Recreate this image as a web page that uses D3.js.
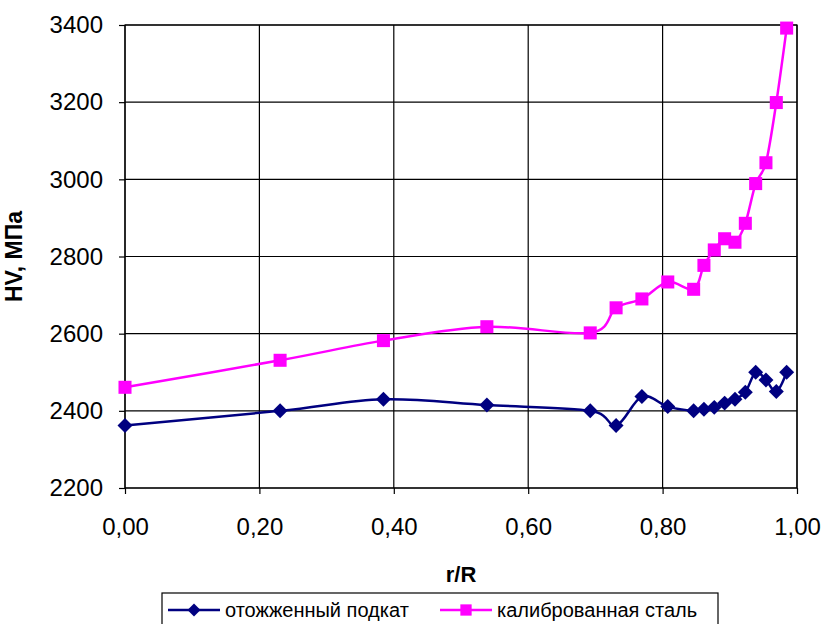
<!DOCTYPE html>
<html>
<head>
<meta charset="utf-8">
<script src="https://cdn.jsdelivr.net/npm/d3@7"></script>
<style>
  body { margin: 0; background: #fff; }
  text { font-family: "Liberation Sans", Arial, sans-serif; fill: #000; }
</style>
</head>
<body>
<div id="chart"></div>
<script>
// r/R positions shared by both series
var radius = [0, 0.2308, 0.3846, 0.5385, 0.6923, 0.7308, 0.7692, 0.8077, 0.8462,
              0.8615, 0.8769, 0.8923, 0.9077, 0.9231, 0.9385, 0.9538, 0.9692, 0.9846];

var annealed = [2362, 2400, 2430, 2415, 2400, 2362, 2437, 2411, 2400,
                2404, 2409, 2420, 2430, 2448, 2500, 2480, 2450, 2500];

var calibrated = [2461, 2531, 2582, 2618, 2602, 2667, 2690, 2734, 2715,
                  2777, 2817, 2846, 2837, 2886, 2989, 3043, 3199, 3392];

var seriesNames = ["отожженный подкат", "калиброванная сталь"];
var xTicks = [0, 0.2, 0.4, 0.6, 0.8, 1.0];
var yTicks = [2200, 2400, 2600, 2800, 3000, 3200, 3400];

var margin = { top: 25, right: 28, bottom: 136, left: 125 },
    width = 825 - margin.left - margin.right,
    height = 624 - margin.top - margin.bottom;

var x = d3.scaleLinear().domain([0, 1]).range([0, width]);
var y = d3.scaleLinear().domain([2200, 3400]).range([height, 0]);

var svg = d3.select("#chart").append("svg")
    .attr("width", 825)
    .attr("height", 624);

var g = svg.append("g")
    .attr("transform", "translate(" + margin.left + "," + margin.top + ")");

// gridlines
g.selectAll(".hgrid").data(yTicks).enter().append("line")
    .attr("x1", 0).attr("x2", width)
    .attr("y1", function (d) { return y(d); })
    .attr("y2", function (d) { return y(d); })
    .attr("stroke", "#000").attr("stroke-width", 1.2);

g.selectAll(".vgrid").data(xTicks).enter().append("line")
    .attr("y1", 0).attr("y2", height)
    .attr("x1", function (d) { return x(d); })
    .attr("x2", function (d) { return x(d); })
    .attr("stroke", "#000").attr("stroke-width", 1.2);

g.append("rect")
    .attr("width", width).attr("height", height)
    .attr("fill", "none").attr("stroke", "#000").attr("stroke-width", 1.2);

// axes
var xAxis = d3.axisBottom(x).tickValues(xTicks).tickSize(6).tickPadding(24)
    .tickFormat(function (d) { return d3.format(".2f")(d).replace(".", ","); });
var yAxis = d3.axisLeft(y).tickValues(yTicks).tickSize(6).tickPadding(16)
    .tickFormat(d3.format("d"));

g.append("g").attr("transform", "translate(0," + height + ")").call(xAxis)
    .call(function (s) {
        s.select(".domain").remove();
        s.selectAll("line").attr("stroke", "#000").attr("stroke-width", 1.2);
        s.selectAll("text").style("font-size", "24px");
    });

g.append("g").call(yAxis)
    .call(function (s) {
        s.select(".domain").remove();
        s.selectAll("line").attr("stroke", "#000").attr("stroke-width", 1.2);
        s.selectAll("text").style("font-size", "24px");
    });

// axis titles
g.append("text")
    .attr("x", width / 2).attr("y", height + 94)
    .attr("text-anchor", "middle")
    .style("font-size", "22px").style("font-weight", "bold")
    .text("r/R");

g.append("text")
    .attr("transform", "translate(" + (-103) + "," + (height / 2) + ") rotate(-90)")
    .attr("text-anchor", "middle")
    .style("font-size", "23px").style("font-weight", "bold")
    .text("HV, МПа");

// series
var line = d3.line()
    .x(function (d) { return x(d[0]); })
    .y(function (d) { return y(d[1]); })
    .curve(d3.curveCardinal.tension(0));

// diamonds are squares turned by 45 degrees
var series = [
    { name: seriesNames[0], values: d3.zip(radius, annealed), color: "#000080", size: 112, rot: 45 },
    { name: seriesNames[1], values: d3.zip(radius, calibrated), color: "#FF00FF", size: 170, rot: 0 }
];

series.forEach(function (s) {
    g.append("path")
        .datum(s.values)
        .attr("fill", "none")
        .attr("stroke", s.color)
        .attr("stroke-width", 2.5)
        .attr("d", line);

    g.selectAll(null).data(s.values).enter().append("path")
        .attr("transform", function (d) {
            return "translate(" + x(d[0]) + "," + y(d[1]) + ") rotate(" + s.rot + ")";
        })
        .attr("d", d3.symbol().type(d3.symbolSquare).size(s.size))
        .attr("fill", s.color);
});

// legend
var legend = svg.append("g");
legend.append("rect")
    .attr("x", 162).attr("y", 593)
    .attr("width", 556).attr("height", 40)
    .attr("fill", "#fff").attr("stroke", "#000").attr("stroke-width", 1.2);

var legendX = [168, 440];
series.forEach(function (s, i) {
    var lx = legendX[i];
    legend.append("line")
        .attr("x1", lx).attr("x2", lx + 52)
        .attr("y1", 610).attr("y2", 610)
        .attr("stroke", s.color).attr("stroke-width", 2.5);
    legend.append("path")
        .attr("transform", "translate(" + (lx + 26) + ",610) rotate(" + s.rot + ")")
        .attr("d", d3.symbol().type(d3.symbolSquare).size(s.size * 0.75))
        .attr("fill", s.color);
    legend.append("text")
        .attr("x", lx + 57).attr("y", 617)
        .style("font-size", "20px")
        .text(s.name);
});
</script>
</body>
</html>
